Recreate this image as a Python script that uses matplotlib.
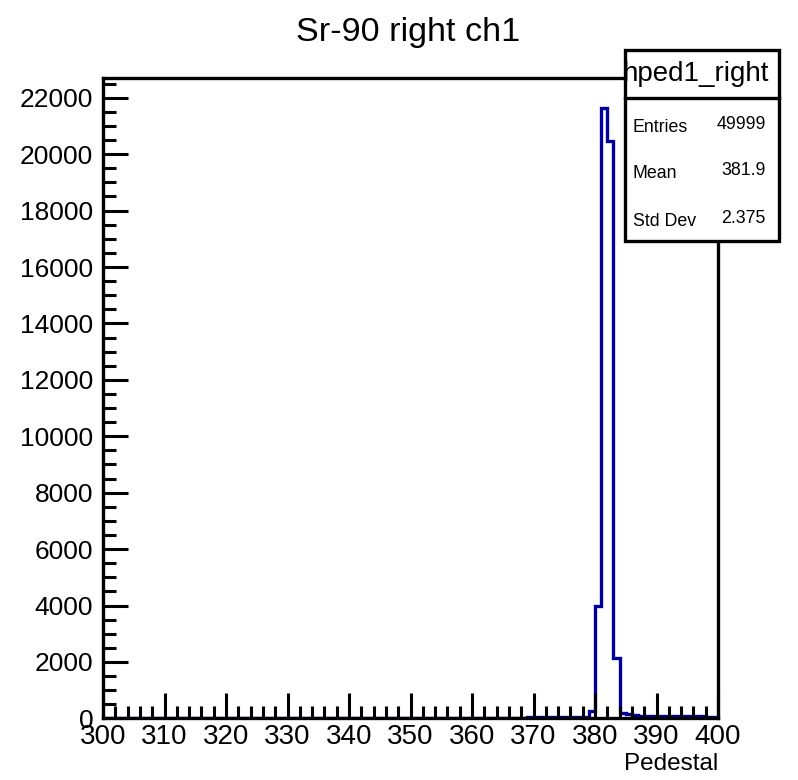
import matplotlib
matplotlib.use("Agg")
import matplotlib.pyplot as plt
import numpy as np
from matplotlib.patches import Rectangle
from matplotlib.ticker import MultipleLocator

plt.rcParams['font.family'] = ['Liberation Sans', 'DejaVu Sans']

# Histogram: 100 bins of width 1 from 300 to 400
x_min, x_max, n_bins = 300, 400, 100
counts = [
    0, 0, 0, 0, 0, 0, 0, 0, 0, 0,            # 300-309
    0, 0, 0, 0, 0, 0, 0, 0, 0, 0,            # 310-319
    0, 0, 0, 0, 0, 0, 0, 0, 0, 0,            # 320-329
    0, 0, 0, 0, 0, 0, 0, 0, 0, 0,            # 330-339
    0, 0, 0, 0, 0, 0, 0, 0, 0, 0,            # 340-349
    0, 0, 0, 0, 0, 0, 0, 0, 5, 10,           # 350-359
    15, 18, 20, 22, 25, 25, 28, 30, 30, 32,  # 360-369
    32, 35, 35, 38, 40, 40, 45, 50, 60, 280, # 370-379
    3980, 21620, 20480, 2140, 200, 150, 110, 100, 95, 90,  # 380-389
    90, 85, 80, 80, 75, 75, 70, 70, 65, 65,  # 390-399
]
y_max = 22700

title = "Sr-90 right ch1"
x_label = "Pedestal"
stats_name = "hped1_right"
stats_labels = ["Entries", "Mean", "Std Dev"]
stats_values = ["49999", "381.9", "2.375"]

W, H = 798, 780
fig = plt.figure(figsize=(W / 100, H / 100), dpi=100)
L, R, T, B = 103, 718, 78, 718.4
ax = fig.add_axes([L / W, 1 - B / H, (R - L) / W, (B - T) / H])

edges = np.linspace(x_min, x_max, n_bins + 1)
ax.stairs(counts, edges, color="#000099", lw=2.4, baseline=0)

ax.set_xlim(x_min, x_max)
ax.set_ylim(0, y_max)
ax.xaxis.set_major_locator(MultipleLocator(10))
ax.xaxis.set_minor_locator(MultipleLocator(2))
ax.yaxis.set_major_locator(MultipleLocator(2000))
ax.yaxis.set_minor_locator(MultipleLocator(500))
ax.tick_params(which="both", direction="in", top=False, right=False, width=2.2, color="black")
ax.tick_params(which="major", length=18)
ax.tick_params(which="minor", length=9)
ax.tick_params(axis="x", labelsize=20, pad=4)
ax.tick_params(axis="y", labelsize=19, pad=7)
for s in ax.spines.values():
    s.set_linewidth(2.4)

fig.text(408 / W, 1 - 33 / H, title, ha="center", va="center", fontsize=24.6)
fig.text(R / W, 1 - 764 / H, x_label, ha="right", va="center", fontsize=17.5)

# Stats box
bx0, bx1, by0, by1, bdiv = 625, 779, 50, 241, 98
box = Rectangle((bx0 / W, 1 - by1 / H), (bx1 - bx0) / W, (by1 - by0) / H,
                transform=fig.transFigure, facecolor="white", edgecolor="black",
                lw=2.4, zorder=5)
fig.add_artist(box)
fig.add_artist(plt.Line2D([bx0 / W, bx1 / W], [1 - bdiv / H, 1 - bdiv / H],
                          transform=fig.transFigure, color="black", lw=2.4, zorder=6))
clip = Rectangle((bx0 / W, 1 - bdiv / H), (bx1 - bx0) / W, (bdiv - by0) / H,
                 transform=fig.transFigure, facecolor="none", edgecolor="none")
fig.add_artist(clip)
t = fig.text(769 / W, 1 - 74 / H, stats_name, ha="right", va="center", fontsize=20, zorder=7)
t.set_clip_path(clip)

rows_y = [129, 175, 223]
for lab, val, yy in zip(stats_labels, stats_values, rows_y):
    fig.text(633 / W, 1 - (yy + 3) / H, lab, ha="left", va="baseline", fontsize=12.8, zorder=7)
    fig.text(766 / W, 1 - yy / H, val, ha="right", va="baseline", fontsize=12.8, zorder=7)

fig.savefig("out.png", dpi=100)
